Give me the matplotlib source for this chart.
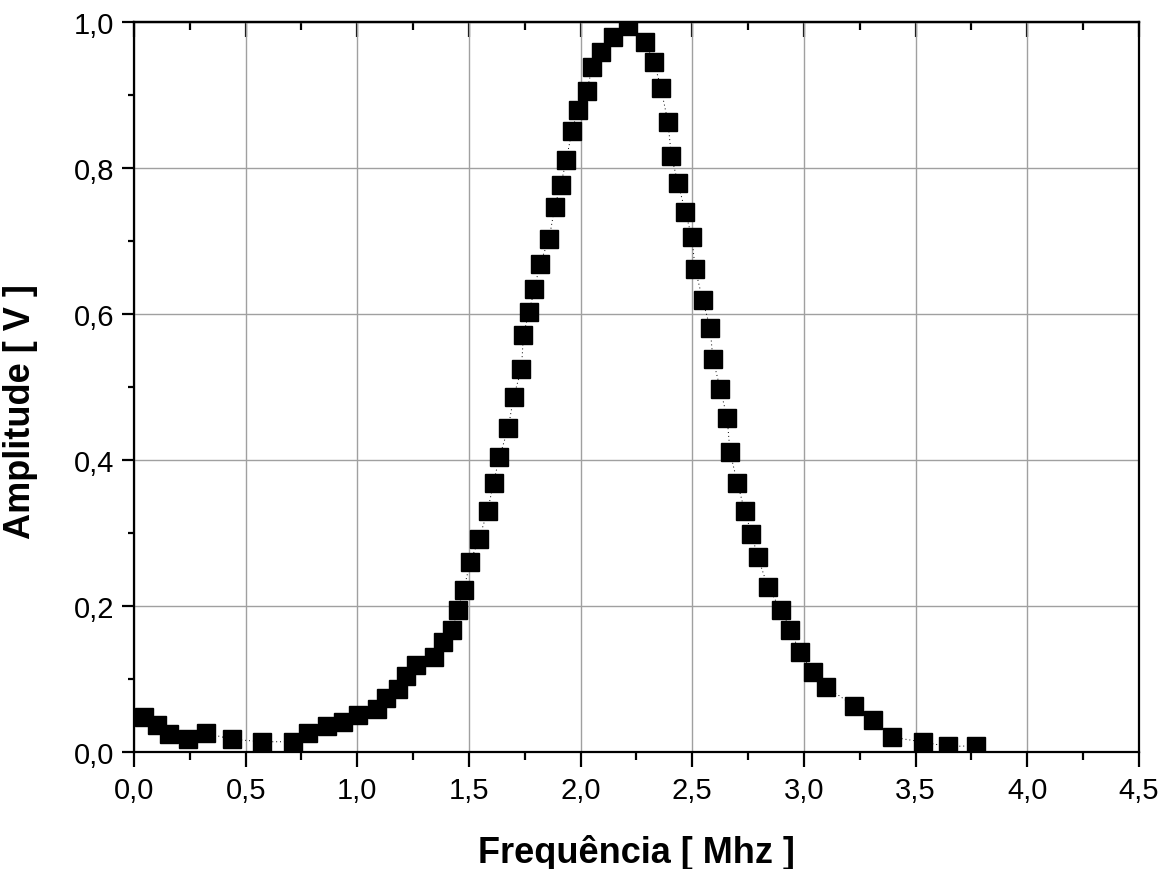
import matplotlib
matplotlib.use("Agg")
import matplotlib.pyplot as plt
from matplotlib.ticker import MultipleLocator, FuncFormatter

freq = [0.045, 0.104, 0.158, 0.241, 0.324, 0.438, 0.573, 0.714, 0.781, 0.865,
        0.938, 1.003, 1.086, 1.128, 1.184, 1.220, 1.262, 1.345, 1.384, 1.423,
        1.450, 1.476, 1.506, 1.545, 1.584, 1.610, 1.636, 1.676, 1.700, 1.735,
        1.744, 1.769, 1.793, 1.818, 1.859, 1.884, 1.911, 1.936, 1.961, 1.988,
        2.028, 2.052, 2.091, 2.144, 2.211, 2.287, 2.329, 2.359, 2.391, 2.406,
        2.436, 2.469, 2.498, 2.513, 2.546, 2.580, 2.592, 2.625, 2.656, 2.669,
        2.702, 2.735, 2.765, 2.793, 2.839, 2.897, 2.939, 2.981, 3.039, 3.098,
        3.222, 3.310, 3.393, 3.533, 3.645, 3.770]
amp = [0.049, 0.037, 0.025, 0.018, 0.026, 0.018, 0.0145, 0.0145, 0.026, 0.036,
       0.042, 0.051, 0.059, 0.074, 0.087, 0.105, 0.120, 0.130, 0.151, 0.167,
       0.195, 0.222, 0.261, 0.292, 0.331, 0.369, 0.404, 0.444, 0.487, 0.525,
       0.572, 0.603, 0.634, 0.669, 0.703, 0.747, 0.777, 0.811, 0.851, 0.879,
       0.905, 0.939, 0.959, 0.979, 0.994, 0.972, 0.945, 0.910, 0.863, 0.817,
       0.779, 0.740, 0.705, 0.662, 0.620, 0.581, 0.539, 0.498, 0.458, 0.411,
       0.369, 0.330, 0.299, 0.268, 0.226, 0.195, 0.168, 0.137, 0.110, 0.090,
       0.064, 0.044, 0.021, 0.014, 0.008, 0.009]

xlabel = "Frequência [ Mhz ]"
ylabel = "Amplitude [ V ]"

plt.rcParams['font.family'] = ['Liberation Sans', 'DejaVu Sans']

fig = plt.figure(figsize=(11.69, 8.70), dpi=100)
ax = fig.add_axes([0.1146, 0.1341, 0.8597, 0.8395])

ax.plot(freq, amp, linestyle=(0, (1, 3)), color='black', lw=0.7, zorder=3)
ax.plot(freq, amp, linestyle='none', marker='s', markersize=13,
        color='black', markeredgecolor='black', zorder=4)

ax.set_xlim(0, 4.5)
ax.set_ylim(0, 1.0)

comma = FuncFormatter(lambda v, p: f"{v:.1f}".replace('.', ','))
ax.xaxis.set_major_locator(MultipleLocator(0.5))
ax.xaxis.set_minor_locator(MultipleLocator(0.25))
ax.yaxis.set_major_locator(MultipleLocator(0.2))
ax.yaxis.set_minor_locator(MultipleLocator(0.1))
ax.xaxis.set_major_formatter(comma)
ax.yaxis.set_major_formatter(comma)

ax.grid(True, which='major', color='#a0a0a0', lw=1.0, zorder=0)
ax.set_axisbelow(True)

for s in ax.spines.values():
    s.set_linewidth(1.6)

ax.tick_params(axis='x', which='major', direction='out', length=11, width=1.6,
               labelsize=21, pad=6)
ax.tick_params(axis='x', which='minor', direction='out', length=6, width=1.6)
ax.tick_params(axis='y', which='major', direction='out', length=9, width=1.6,
               labelsize=21, pad=5)
ax.tick_params(axis='y', which='minor', direction='out', length=4.5, width=1.6)

top = ax.secondary_xaxis('top')
top.xaxis.set_major_locator(MultipleLocator(0.5))
top.xaxis.set_minor_locator(MultipleLocator(0.25))
top.tick_params(axis='x', which='major', direction='in', length=11, width=1.6,
                labeltop=False)
top.tick_params(axis='x', which='minor', direction='in', length=6, width=1.6)
top.spines['top'].set_linewidth(1.6)

ax.set_xlabel(xlabel, fontsize=26, fontweight='bold', labelpad=22)
ax.set_ylabel(ylabel, fontsize=26, fontweight='bold')
ax.yaxis.set_label_coords(-0.0955, 0.4675)

fig.savefig("out.png", dpi=100)
